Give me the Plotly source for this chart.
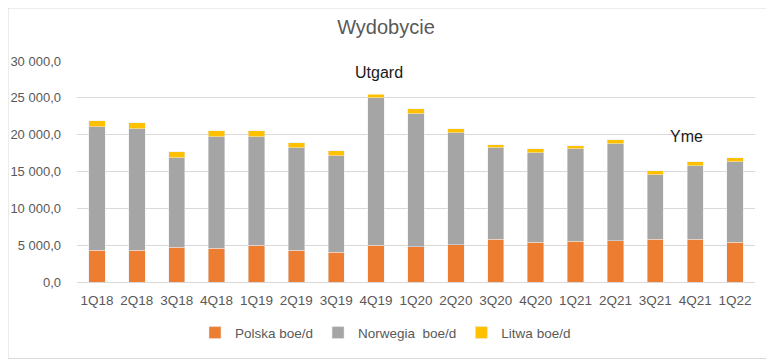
import plotly.graph_objects as go

categories = ["1Q18", "2Q18", "3Q18", "4Q18", "1Q19", "2Q19", "3Q19", "4Q19", "1Q20",
              "2Q20", "3Q20", "4Q20", "1Q21", "2Q21", "3Q21", "4Q21", "1Q22"]
polska = [4300, 4300, 4700, 4560, 4970, 4290, 4020, 4970, 4790, 5060, 5780, 5380, 5510, 5600, 5780, 5780, 5380]
norwegia = [16800, 16480, 12200, 15180, 14770, 13960, 13150, 20060, 18070, 15180, 12470, 12150, 12560, 13150, 8770, 10030, 10930]
litwa = [810, 860, 770, 810, 810, 630, 680, 680, 680, 590, 360, 590, 410, 590, 540, 500, 590]
y_ticks = [0, 5000, 10000, 15000, 20000, 25000, 30000]

FONT = "Liberation Sans"
GREY_TXT = "#595959"
GRID = "#d9d9d9"

# page body has an 8px margin: figure coords = page coords - 8
W, H = 766, 352
L, T, R, B = 69, 53, 19, 78
PW, PH = W - L - R, H - T - B

fig = go.Figure()
fig.add_bar(x=categories, y=polska, name="Polska boe/d", marker_color="#ed7d31")
fig.add_bar(x=categories, y=norwegia, name="Norwegia\u00a0 boe/d", marker_color="#a5a5a5")
fig.add_bar(x=categories, y=litwa, name="Litwa boe/d", marker_color="#ffc000")

fig.update_layout(
    width=W, height=H,
    barmode="stack", bargap=0.59,
    separators=", ",
    paper_bgcolor="white", plot_bgcolor="white",
    margin=dict(l=L, r=R, t=T, b=B, autoexpand=False),
    font=dict(family=FONT, size=13, color=GREY_TXT),
    title=dict(text="Wydobycie", x=378 / W, xanchor="center", y=1 - 19 / H, yanchor="middle",
               font=dict(family=FONT, size=20, color=GREY_TXT)),
    legend=dict(orientation="h", x=0.455, xanchor="center", y=-0.23, yanchor="middle",
                font=dict(family=FONT, size=13.5, color=GREY_TXT), itemwidth=30,
                traceorder="normal"),
    xaxis=dict(showline=True, linecolor=GRID, linewidth=1, ticks="", showgrid=False,
               tickfont=dict(family=FONT, size=13.5, color=GREY_TXT), ticklabelstandoff=6),
    yaxis=dict(range=[0, 30000], tickvals=y_ticks, tickformat=",.1f", showgrid=True,
               gridcolor=GRID, gridwidth=1, zeroline=False, showline=False, ticks="",
               tickfont=dict(family=FONT, size=13, color=GREY_TXT), ticklabelstandoff=15),
)

fig.add_annotation(x="4Q19", y=28500, text="Utgard", showarrow=False, xshift=3,
                   bgcolor="white", borderpad=13,
                   font=dict(family=FONT, size=16, color="#1a1a1a"))
fig.add_annotation(x="4Q21", y=19700, text="Yme", showarrow=False, xshift=-9,
                   font=dict(family=FONT, size=16, color="#1a1a1a"))

fig.add_shape(type="rect", xref="paper", yref="paper",
              x0=-L / PW, x1=(764.5 - L) / PW, y0=-(350.5 - (H - B)) / PH, y1=(H - B) / PH,
              line=dict(color=GRID, width=1), fillcolor="rgba(0,0,0,0)", layer="above")

fig.write_html("out.html")
